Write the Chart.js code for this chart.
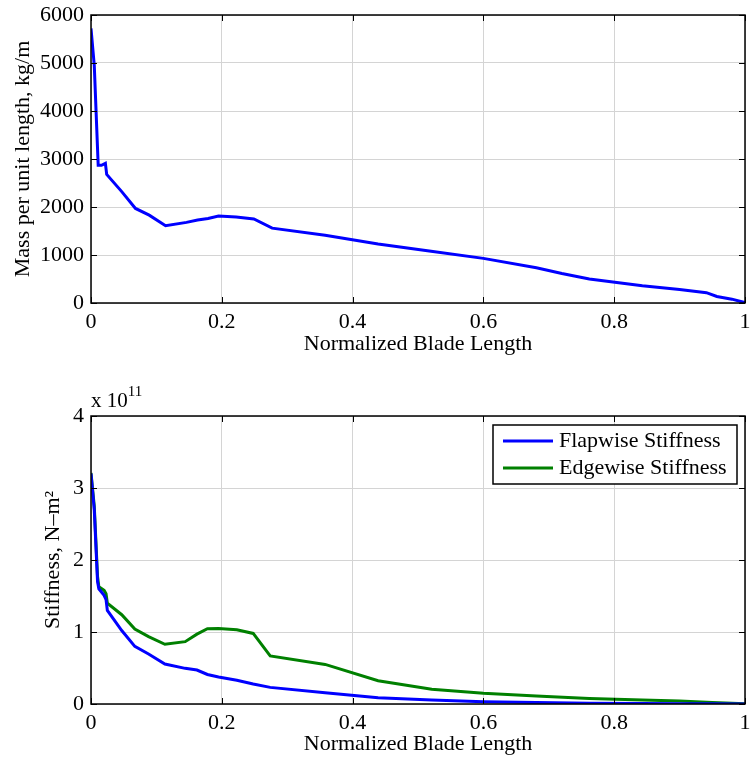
<!DOCTYPE html>
<html>
<head>
<meta charset="utf-8">
<script src="https://cdn.jsdelivr.net/npm/chart.js@4.4.1/dist/chart.umd.min.js"></script>
<style>
    body { margin: 0; background: #fff; }
    #wrap { position: relative; width: 751px; height: 761px; }
    canvas { position: absolute; left: 0; }
</style>
</head>
<body>
<div id="wrap">
    <canvas id="massChart" width="751" height="361" style="top:0"></canvas>
    <canvas id="stiffChart" width="751" height="400" style="top:361px"></canvas>
</div>
<script>
// Blade stations (normalized length) and mass per unit length, kg/m
const massX = [0, 0.005, 0.011, 0.016, 0.022, 0.024, 0.047, 0.068, 0.089, 0.114, 0.146, 0.163, 0.179, 0.195, 0.222, 0.249, 0.277, 0.358, 0.439, 0.520, 0.600, 0.681, 0.720, 0.762, 0.843, 0.900, 0.941, 0.957, 0.980, 1.0];
const massY = [5720, 4950, 2870, 2870, 2910, 2680, 2320, 1970, 1830, 1610, 1680, 1730, 1760, 1810, 1790, 1750, 1560, 1410, 1230, 1080, 930, 735, 615, 500, 360, 280, 215, 135, 80, 8];

// Stiffness stations and values, in units of 1e11 N-m^2
const stiffX = [0, 0.005, 0.010, 0.012, 0.020, 0.023, 0.025, 0.047, 0.067, 0.088, 0.113, 0.144, 0.162, 0.178, 0.195, 0.223, 0.248, 0.274, 0.358, 0.439, 0.521, 0.600, 0.681, 0.762, 0.843, 0.900, 0.950, 1.0];
const flapY = [3.20, 2.70, 1.70, 1.60, 1.51, 1.45, 1.30, 1.02, 0.80, 0.694, 0.556, 0.495, 0.472, 0.41, 0.375, 0.33, 0.278, 0.231, 0.155, 0.088, 0.056, 0.032, 0.02, 0.012, 0.008, 0.005, 0.003, 0.001];
const edgeY = [3.21, 2.75, 1.77, 1.63, 1.58, 1.53, 1.40, 1.24, 1.04, 0.935, 0.83, 0.866, 0.97, 1.046, 1.05, 1.03, 0.98, 0.667, 0.55, 0.324, 0.204, 0.148, 0.11, 0.075, 0.055, 0.04, 0.02, 0.003];

const xTicks = [0, 0.2, 0.4, 0.6, 0.8, 1];
const massTicks = [0, 1000, 2000, 3000, 4000, 5000, 6000];
const stiffTicks = [0, 1, 2, 3, 4];
const seriesNames = ['Flapwise Stiffness', 'Edgewise Stiffness'];

const FONT = 'Liberation Serif, Times New Roman, serif';
const toPoints = (xs, ys) => xs.map((x, i) => ({ x: x, y: ys[i] }));

// Draws the black box with inward ticks on all four sides (matlab style)
const framePlugin = {
    id: 'frame',
    afterDatasetsDraw(chart) {
        const { ctx, chartArea: a, scales } = chart;
        const len = 6;
        ctx.save();
        ctx.strokeStyle = '#000';
        ctx.lineWidth = 1;
        ctx.beginPath();
        scales.x.ticks.forEach(t => {
            const px = Math.round(scales.x.getPixelForValue(t.value)) + 0.5;
            ctx.moveTo(px, a.bottom); ctx.lineTo(px, a.bottom - len);
            ctx.moveTo(px, a.top); ctx.lineTo(px, a.top + len);
        });
        scales.y.ticks.forEach(t => {
            const py = Math.round(scales.y.getPixelForValue(t.value)) + 0.5;
            ctx.moveTo(a.left, py); ctx.lineTo(a.left + len, py);
            ctx.moveTo(a.right, py); ctx.lineTo(a.right - len, py);
        });
        ctx.stroke();
        ctx.lineWidth = 1.5;
        ctx.strokeRect(a.left, a.top, a.right - a.left, a.bottom - a.top);
        ctx.restore();
    }
};

// Legend box inside the top right corner of the lower plot
const legendPlugin = {
    id: 'boxLegend',
    afterDraw(chart) {
        const { ctx, chartArea: a } = chart;
        const w = 244, h = 59;
        const left = a.right - 8 - w, top = a.top + 9;
        ctx.save();
        ctx.fillStyle = '#fff';
        ctx.fillRect(left, top, w, h);
        ctx.strokeStyle = '#000';
        ctx.lineWidth = 1.5;
        ctx.strokeRect(left, top, w, h);
        ctx.font = '22px ' + FONT;
        ctx.textBaseline = 'middle';
        ctx.fillStyle = '#000';
        chart.data.datasets.forEach((ds, i) => {
            const y = top + 16 + i * 27;
            ctx.strokeStyle = ds.borderColor;
            ctx.lineWidth = 3;
            ctx.beginPath();
            ctx.moveTo(left + 10, y);
            ctx.lineTo(left + 60, y);
            ctx.stroke();
            ctx.fillText(ds.label, left + 66, y);
        });
        ctx.restore();
    }
};

// "x 10^11" exponent label above the lower plot
const exponentPlugin = {
    id: 'exponent',
    afterDraw(chart) {
        const { ctx, chartArea: a } = chart;
        ctx.save();
        ctx.fillStyle = '#000';
        ctx.textBaseline = 'alphabetic';
        ctx.font = '21px ' + FONT;
        ctx.fillText('x 10', a.left, a.top - 9);
        const w = ctx.measureText('x 10').width;
        ctx.font = '15px ' + FONT;
        ctx.fillText('11', a.left + w, a.top - 20);
        ctx.restore();
    }
};

const buildOptions = (yTicks, yTitle, yTitlePad, topPad, xHeight) => ({
    responsive: false,
    animation: false,
    layout: { padding: { top: topPad, right: 6, left: 0, bottom: 0 } },
    plugins: { legend: { display: false }, tooltip: { enabled: false } },
    elements: { point: { radius: 0 }, line: { tension: 0, borderWidth: 3 } },
    scales: {
        x: {
            type: 'linear',
            min: 0,
            max: 1,
            afterBuildTicks: s => { s.ticks = xTicks.map(v => ({ value: v })); },
            afterFit: s => { s.height = xHeight; s.paddingLeft = 0; s.paddingRight = 0; },
            ticks: {
                color: '#000',
                padding: 6,
                font: { family: FONT, size: 22 },
                maxRotation: 0,
                callback: v => String(v)
            },
            grid: { color: '#d4d4d4', drawTicks: false },
            border: { display: false },
            title: {
                display: true,
                text: 'Normalized Blade Length',
                color: '#000',
                font: { family: FONT, size: 22 },
                padding: { top: 0, bottom: 4 }
            }
        },
        y: {
            min: yTicks[0],
            max: yTicks[yTicks.length - 1],
            afterBuildTicks: s => { s.ticks = yTicks.map(v => ({ value: v })); },
            afterFit: s => { s.width = 91; s.paddingTop = 0; s.paddingBottom = 0; },
            ticks: {
                color: '#000',
                padding: 7,
                font: { family: FONT, size: 22 },
                callback: v => String(v)
            },
            grid: { color: '#d4d4d4', drawTicks: false },
            border: { display: false },
            title: {
                display: true,
                text: yTitle,
                color: '#000',
                font: { family: FONT, size: 22 },
                padding: { top: yTitlePad, bottom: 0 }
            }
        }
    }
});

new Chart(document.getElementById('massChart'), {
    type: 'line',
    data: {
        datasets: [{
            label: 'Mass per unit length',
            data: toPoints(massX, massY),
            borderColor: '#0000ff',
            fill: false
        }]
    },
    options: buildOptions(massTicks, 'Mass per unit length, kg/m', 10, 15, 58),
    plugins: [framePlugin]
});

new Chart(document.getElementById('stiffChart'), {
    type: 'line',
    data: {
        datasets: [{
            label: seriesNames[0],
            data: toPoints(stiffX, flapY),
            borderColor: '#0000ff',
            fill: false
        }, {
            label: seriesNames[1],
            data: toPoints(stiffX, edgeY),
            borderColor: '#008000',
            fill: false
        }]
    },
    options: buildOptions(stiffTicks, 'Stiffness, N\u2013m\u00b2', 40, 55, 57),
    plugins: [framePlugin, legendPlugin, exponentPlugin]
});
</script>
</body>
</html>
